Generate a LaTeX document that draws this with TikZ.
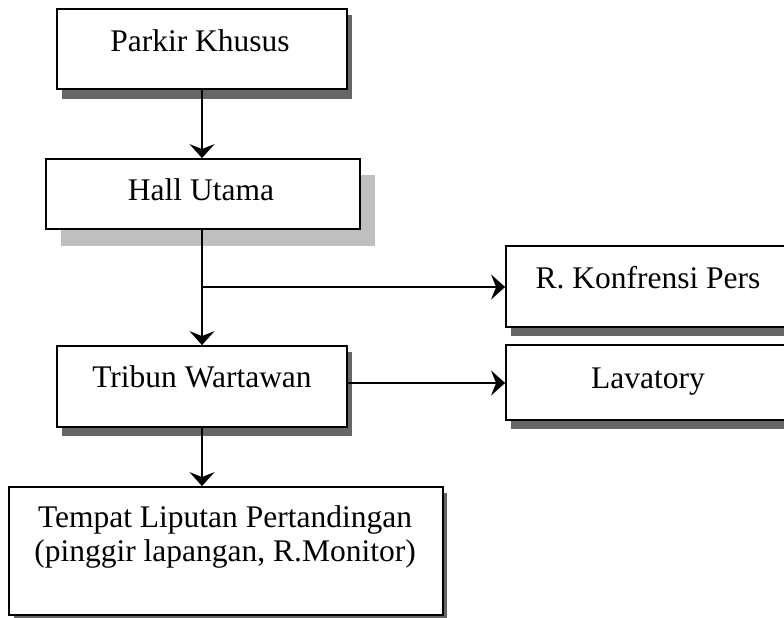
\documentclass[tikz,border=0pt]{standalone}
\usepackage{fontspec}
\setmainfont{Liberation Serif}
\usetikzlibrary{arrows.meta}
\begin{document}
\begin{tikzpicture}[x=1pt,y=-1pt,
  box/.style={draw=black, line width=1.8pt, fill=white, rectangle, inner sep=0pt},
  lbl/.style={anchor=base, inner sep=0pt, font=\fontsize{31.5}{34}\selectfont},
  flow/.style={line width=2pt, -{Stealth[length=14pt, width=25pt, inset=5pt]}},
  plain/.style={line width=2pt},
  darkshadow/.style={fill=black!60},
  softshadow/.style={fill=black!25}]
\useasboundingbox (0,0) rectangle (784,618);
\clip (0,0) rectangle (784,618);

% shadows behind the boxes
\fill[darkshadow] (62,15) rectangle (352,99);
\fill[softshadow] (61,175) rectangle (375,246);
\fill[darkshadow] (62,352) rectangle (352,436);
\fill[darkshadow] (14,493) rectangle (447,625);
\fill[darkshadow] (511,252) rectangle (800,336);
\fill[darkshadow] (511,351) rectangle (800,429);

% boxes
\node[box, minimum width=290pt, minimum height=80pt] (pk) at (202,49) {};
\node[box, minimum width=314pt, minimum height=70pt] (hu) at (203,194) {};
\node[box, minimum width=290pt, minimum height=81pt] (tw) at (202,386.5) {};
\node[box, minimum width=434pt, minimum height=128pt] (tl) at (226,551) {};
\node[box, minimum width=300pt, minimum height=81pt] (rk) at (656,286.5) {};
\node[box, minimum width=300pt, minimum height=75pt] (lv) at (656,382.5) {};

% labels
\node[lbl] (tpk) at (200,52) {Parkir Khusus};
\node[lbl] (thu) at (201,200) {Hall Utama};
\node[lbl] (ttw) at (202,387) {Tribun Wartawan};
\node[lbl] (ttl1) at (225,527) {Tempat Liputan Pertandingan};
\node[lbl] (ttl2) at (225,561) {(pinggir lapangan, R.Monitor)};
\node[lbl] (trk) at (648,288) {R. Konfrensi Pers};
\node[lbl] (tlv) at (648,388) {Lavatory};

% connectors
\coordinate (split) at (202,287);
\draw[flow] (pk.south -| split) -- (hu.north -| split);
\draw[flow] (hu.south -| split) -- (tw.north -| split);
\draw[flow] (split) -- (split -| rk.west);
\draw[flow] (tw.east |- 0,383) -- (lv.west |- 0,383);
\draw[flow] (tw.south -| split) -- (tl.north -| split);
\end{tikzpicture}
\end{document}
